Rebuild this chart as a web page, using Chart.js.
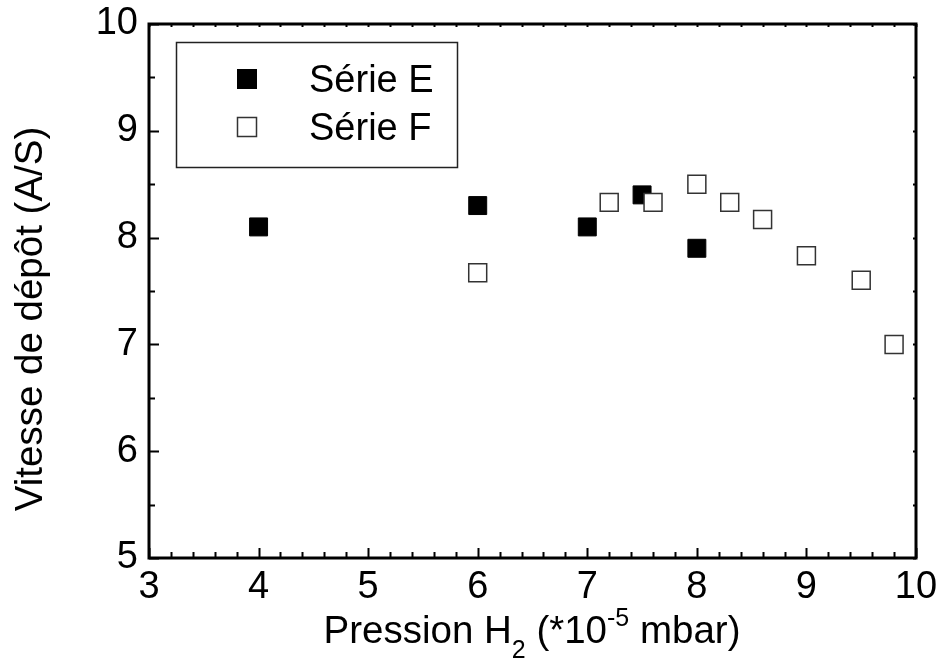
<!DOCTYPE html>
<html>
<head>
<meta charset="utf-8">
<script src="https://cdn.jsdelivr.net/npm/chart.js@4"></script>
<style>
  html, body { margin: 0; padding: 0; background: #fff; }
  canvas { display: block; }
</style>
</head>
<body>
<canvas id="chart" width="941" height="663"></canvas>
<script>
// ─── Data ─────────────────────────────────────────────────────────────────────
const serieEx = [4, 6, 7, 7.5, 8];
const serieEy = [8.1, 8.3, 8.1, 8.4, 7.9];
const serieFx = [6, 7.2, 7.6, 8, 8.3, 8.6, 9, 9.5, 9.8];
const serieFy = [7.67, 8.33, 8.33, 8.5, 8.33, 8.17, 7.83, 7.6, 7.0];
const xRange = [3, 10];
const yRange = [5, 10];
const legendLabels = ['Série E', 'Série F'];

const FONT = '"Liberation Sans", Arial, sans-serif';
const toPoints = (xs, ys) => xs.map((x, i) => ({ x, y: ys[i] }));

// ─── Frame, ticks, titles, legend ─────────────────────────────────────────────
const framePlugin = {
  id: 'frame',
  afterDraw(chart) {
    const { ctx, chartArea: a, scales: { x, y } } = chart;
    ctx.save();
    ctx.strokeStyle = '#000';

    // inward ticks
    ctx.lineWidth = 2;
    ctx.beginPath();
    const nx = Math.round((xRange[1] - xRange[0]) / 0.2);
    for (let i = 0; i <= nx; i++) {
      const px = Math.round(x.getPixelForValue(xRange[0] + i * 0.2)) + 0.5;
      const len = i % 5 === 0 ? 10 : 6;
      ctx.moveTo(px, a.bottom); ctx.lineTo(px, a.bottom - len);
      ctx.moveTo(px, a.top); ctx.lineTo(px, a.top + 3);
    }
    const ny = Math.round((yRange[1] - yRange[0]) / 0.5);
    for (let i = 0; i <= ny; i++) {
      const py = Math.round(y.getPixelForValue(yRange[0] + i * 0.5)) + 0.5;
      const len = i % 2 === 0 ? 10 : 6;
      ctx.moveTo(a.left, py); ctx.lineTo(a.left + len, py);
      ctx.moveTo(a.right, py); ctx.lineTo(a.right - 3, py);
    }
    ctx.stroke();

    // box
    ctx.lineWidth = 3;
    ctx.strokeRect(a.left, a.top, a.right - a.left, a.bottom - a.top);

    // y title
    ctx.fillStyle = '#000';
    ctx.font = `38.5px ${FONT}`;
    ctx.save();
    ctx.translate(42, 319);
    ctx.rotate(-Math.PI / 2);
    ctx.textAlign = 'center';
    ctx.textBaseline = 'alphabetic';
    ctx.fillText('Vitesse de dépôt (A/S)', 0, 0);
    ctx.restore();

    // x title with sub / superscript
    const parts = [
      { t: 'Pression H', size: 38.5, dy: 0 },
      { t: '2', size: 25, dy: 15 },
      { t: ' (*10', size: 38.5, dy: 0 },
      { t: '-5', size: 25, dy: -17 },
      { t: ' mbar)', size: 38.5, dy: 0 },
    ];
    let total = 0;
    parts.forEach(p => { ctx.font = `${p.size}px ${FONT}`; p.w = ctx.measureText(p.t).width; total += p.w; });
    let cx = 532 - total / 2;
    ctx.textAlign = 'left';
    parts.forEach(p => {
      ctx.font = `${p.size}px ${FONT}`;
      ctx.fillText(p.t, cx, 643 + p.dy);
      cx += p.w;
    });

    // legend
    ctx.lineWidth = 1.5;
    ctx.strokeStyle = '#222';
    ctx.strokeRect(176.5, 42.5, 281, 125);
    chart.data.datasets.forEach((ds, i) => {
      const cy = 79 + i * 48;
      ctx.fillStyle = ds.pointBackgroundColor;
      ctx.fillRect(237, cy - 10, 20, 20);
      ctx.strokeStyle = ds.pointBorderColor;
      ctx.lineWidth = ds.pointBorderWidth;
      ctx.strokeRect(237.5, cy - 9.5, 19, 19);
      ctx.fillStyle = '#000';
      ctx.font = `38px ${FONT}`;
      ctx.fillText(legendLabels[i], 309, cy + 13);
    });
    ctx.restore();
  }
};

new Chart(document.getElementById('chart'), {
  type: 'scatter',
  data: {
    datasets: [
      {
        label: legendLabels[0],
        data: toPoints(serieEx, serieEy),
        pointStyle: 'rect',
        pointRadius: 12.7,
        pointHoverRadius: 12.7,
        pointBackgroundColor: '#000',
        pointBorderColor: '#000',
        pointBorderWidth: 1,
        order: 2,
      },
      {
        label: legendLabels[1],
        data: toPoints(serieFx, serieFy),
        pointStyle: 'rect',
        pointRadius: 12.7,
        pointHoverRadius: 12.7,
        pointBackgroundColor: '#fff',
        pointBorderColor: '#333',
        pointBorderWidth: 1.5,
        order: 1,
      }
    ]
  },
  options: {
    responsive: false,
    animation: false,
    layout: { padding: { left: 0, top: 24, right: 25, bottom: 0 } },
    plugins: { legend: { display: false }, tooltip: { enabled: false } },
    scales: {
      x: {
        type: 'linear', min: xRange[0], max: xRange[1],
        grid: { display: false, drawTicks: false },
        border: { display: false },
        ticks: { stepSize: 1, color: '#000', padding: 7, font: { family: FONT, size: 38 } },
        afterFit: s => { s.height = 105; s.paddingLeft = 0; s.paddingRight = 0; }
      },
      y: {
        type: 'linear', min: yRange[0], max: yRange[1],
        grid: { display: false, drawTicks: false },
        border: { display: false },
        ticks: { stepSize: 1, color: '#000', padding: 11, font: { family: FONT, size: 38 } },
        afterFit: s => { s.width = 149; s.paddingTop = 0; s.paddingBottom = 0; }
      }
    }
  },
  plugins: [framePlugin]
});
</script>
</body>
</html>
